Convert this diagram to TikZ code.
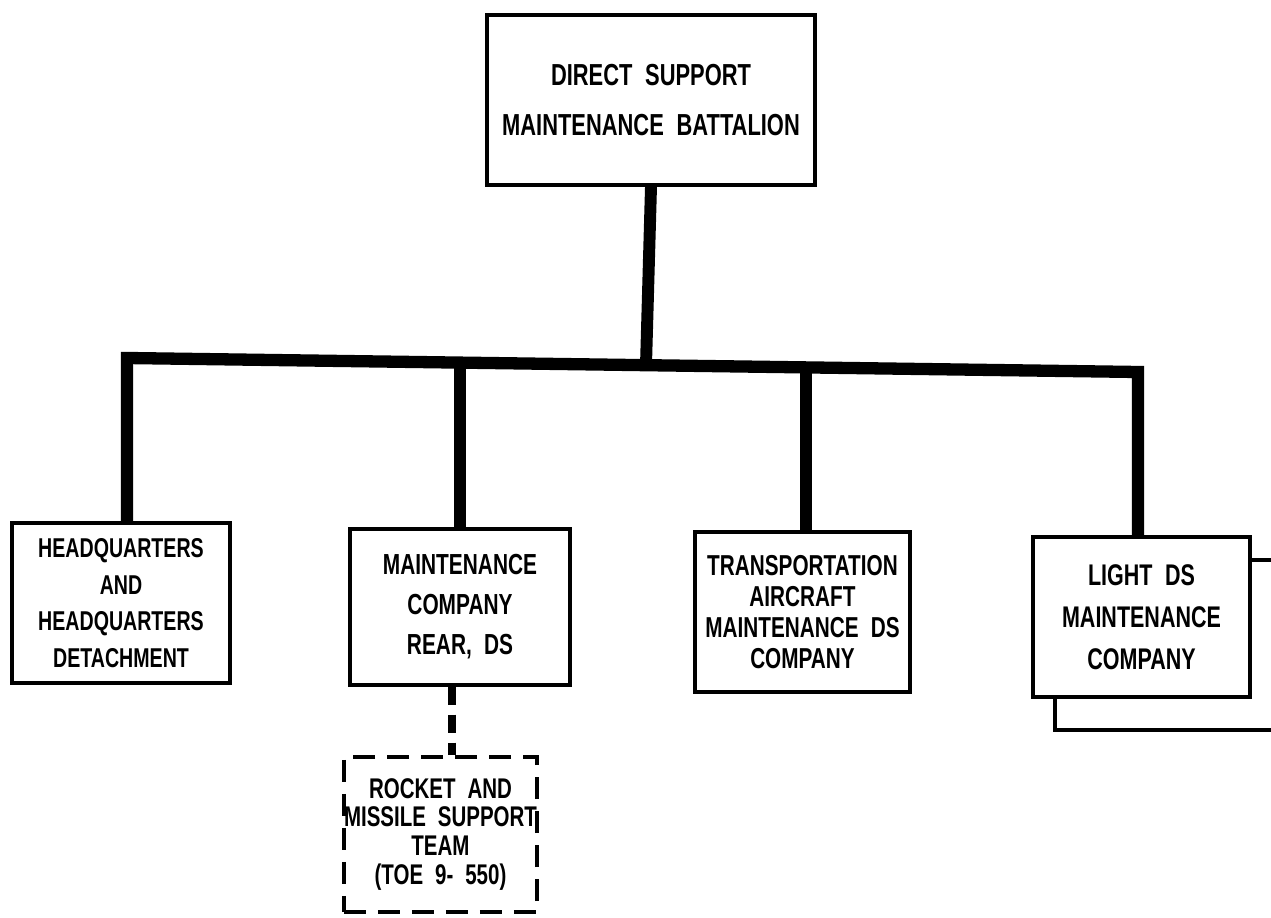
\documentclass[tikz,border=0pt]{standalone}
\usepackage{fontspec}
\newfontfamily\orgfont[FakeStretch=0.72]{Liberation Sans}
\newcommand{\orgsz}[2]{\orgfont\bfseries\fontsize{#1}{#2}\selectfont\spaceskip=0.42em plus 0.1em\relax}
\begin{document}
\begin{tikzpicture}[x=0.02cm,y=-0.02cm,
  unitbox/.style={draw=black,line width=2pt,fill=white,inner sep=0pt,align=center,
    font=\orgsz{16.5}{22.8}},
  teambox/.style={draw=black,line width=2.8pt,dash pattern=on 0.44cm off 0.24cm,inner sep=0pt,align=center,
    font=\orgsz{16.2}{16.5}},
  busline/.style={line width=7pt,line join=miter,line cap=butt},
  stemline/.style={line width=6.8pt,line cap=butt},
  dashlink/.style={line width=4.8pt,dash pattern=on 0.36cm off 0.2cm},
  backline/.style={line width=2pt}]
\useasboundingbox (0,0) rectangle (1271,918);

\node[unitbox,minimum width=6.56cm,minimum height=3.4cm,font=\orgsz{17.3}{28.4}]
  (top) at (651,100) {DIRECT SUPPORT\\MAINTENANCE BATTALION};
\node[unitbox,minimum width=4.36cm,minimum height=3.2cm,font=\orgsz{15.5}{20.9}]
  (hq) at (121,603) {HEADQUARTERS\\AND\\HEADQUARTERS\\DETACHMENT};
\node[unitbox,minimum width=4.4cm,minimum height=3.12cm]
  (maint) at (460,607) {MAINTENANCE\\COMPANY\\REAR, DS};
\node[unitbox,minimum width=4.3cm,minimum height=3.2cm,font=\orgsz{16.4}{17.5}]
  (trans) at (802.5,612) {TRANSPORTATION\\AIRCRAFT\\MAINTENANCE DS\\COMPANY};
\node[unitbox,minimum width=4.34cm,minimum height=3.2cm,font=\orgsz{17}{23.9}]
  (light) at (1141.5,617) {LIGHT DS\\MAINTENANCE\\COMPANY};
\node[teambox,minimum width=3.82cm,minimum height=3.1cm]
  (rocket) at (440.5,834.5) {ROCKET AND\\MISSILE SUPPORT\\TEAM\\(TOE 9- 550)};

% bus coordinates
\coordinate (busL) at (127,358);
\coordinate (busR) at (1138,372);
\coordinate (btop) at (646,365);
\coordinate (bm) at (460,363);
\coordinate (bt) at (806,367);
\coordinate (dx) at (452,0);

\draw[busline] (busL |- hq.north) -- (busL) -- (busR) -- (busR |- light.north);
\draw[stemline] (top.south) -- (btop);
\draw[stemline] (bm) -- (bm |- maint.north);
\draw[stemline] (bt) -- (bt |- trans.north);
\draw[dashlink] (dx |- maint.south) -- (dx |- rocket.north);

% second (stacked) light company box behind
\coordinate (b1) at (1250,560);
\coordinate (b2) at (1280,560);
\coordinate (b4) at (1055,730);
\coordinate (b5) at (1280,730);
\draw[backline] (light.east |- b1) -- (b2);
\draw[backline] (light.south -| b4) -- (b4) -- (b5);
\end{tikzpicture}
\end{document}
